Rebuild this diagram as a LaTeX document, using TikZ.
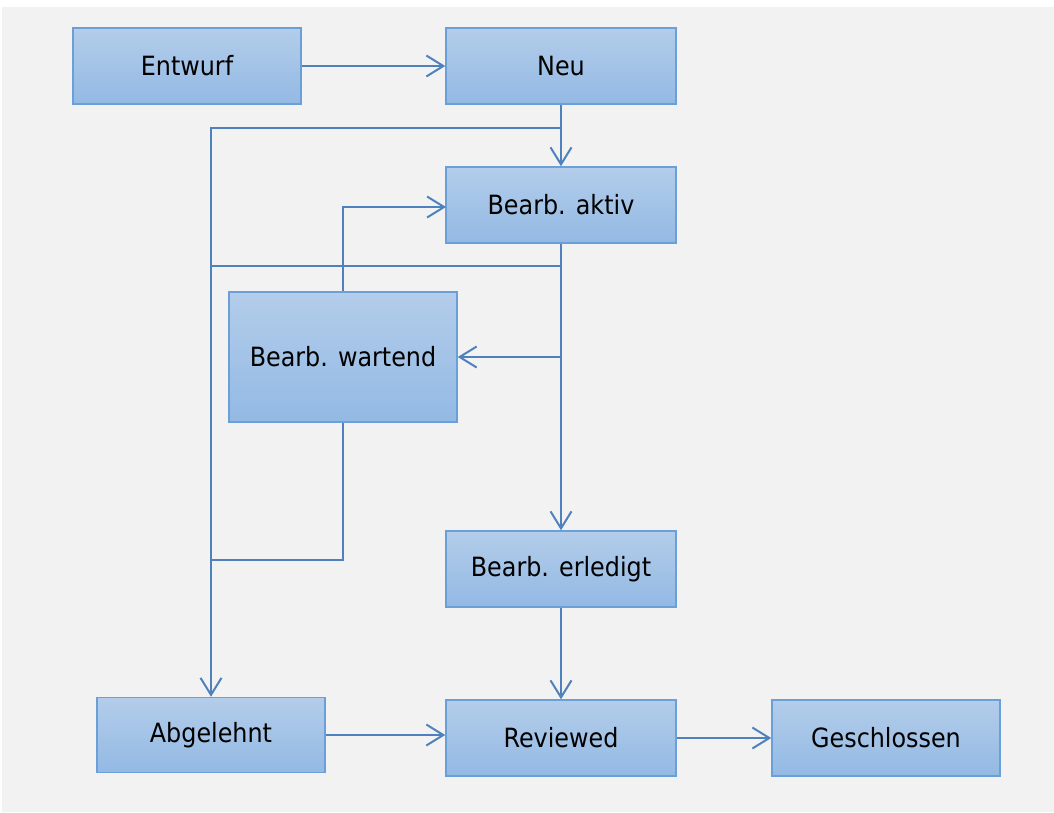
\documentclass[tikz,border=0pt]{standalone}
\usepackage{fontspec}
\setmainfont{DejaVu Sans Condensed}
\usetikzlibrary{arrows.meta}
\definecolor{bg}{HTML}{F2F2F2}
\definecolor{boxtop}{HTML}{B3CDEA}
\definecolor{boxbot}{HTML}{93B9E4}
\definecolor{boxline}{HTML}{6A9FD8}
\definecolor{conn}{HTML}{4F81BD}
\tikzset{
  state/.style={rectangle, draw=boxline, line width=1.5pt, top color=boxtop, bottom color=boxbot,
    minimum width=228pt, minimum height=76pt, inner sep=0pt, font=\fontsize{26.5}{30}\selectfont, text=black},
  link/.style={draw=conn, line width=2pt},
  arr/.style={link, -{Straight Barb[length=17pt,width=21pt,line width=2pt]}}
}
\begin{document}
\begin{tikzpicture}[x=1pt,y=-1pt]
\useasboundingbox (0,0) rectangle (1054,812);
\fill[white] (0,0) rectangle (1054,812);
\fill[bg] (2,7) rectangle (1054,812);

\node[state] (entwurf) at (187,66) {Entwurf};
\node[state, minimum width=230pt] (neu) at (561,66) {Neu};
\node[state, minimum width=230pt] (aktiv) at (561,205) {Bearb. aktiv};
\node[state, minimum height=130pt] (wartend) at (343,357) {Bearb. wartend};
\node[state, minimum width=230pt] (erledigt) at (561,569) {Bearb. erledigt};
\node[state, minimum height=75pt] (abgelehnt) at (211,735) {Abgelehnt};
\node[state, minimum width=230pt] (reviewed) at (561,738) {Reviewed};
\node[state] (geschlossen) at (886,738) {Geschlossen};

\coordinate (j1) at (561,128);
\coordinate (j2) at (561,266);
\coordinate (j2l) at (211,266);
\coordinate (j3) at (561,357);
\coordinate (ain) at (446,207);
\coordinate (j4) at (211,560);

\draw[arr] (entwurf) -- (neu);
\draw[arr] (neu) -- (aktiv);
\draw[arr] (j1) -| (abgelehnt.north);
\draw[arr] (aktiv) -- (erledigt);
\draw[link] (j2) -- (j2l);
\draw[arr] (j3) -- (wartend.east |- j3);
\draw[arr] (wartend.north) |- (ain);
\draw[link] (wartend.south) |- (j4);
\draw[arr] (erledigt) -- (reviewed);
\draw[arr] (abgelehnt.east) -- (abgelehnt.east -| reviewed.west);
\draw[arr] (reviewed) -- (geschlossen);
\end{tikzpicture}
\end{document}
